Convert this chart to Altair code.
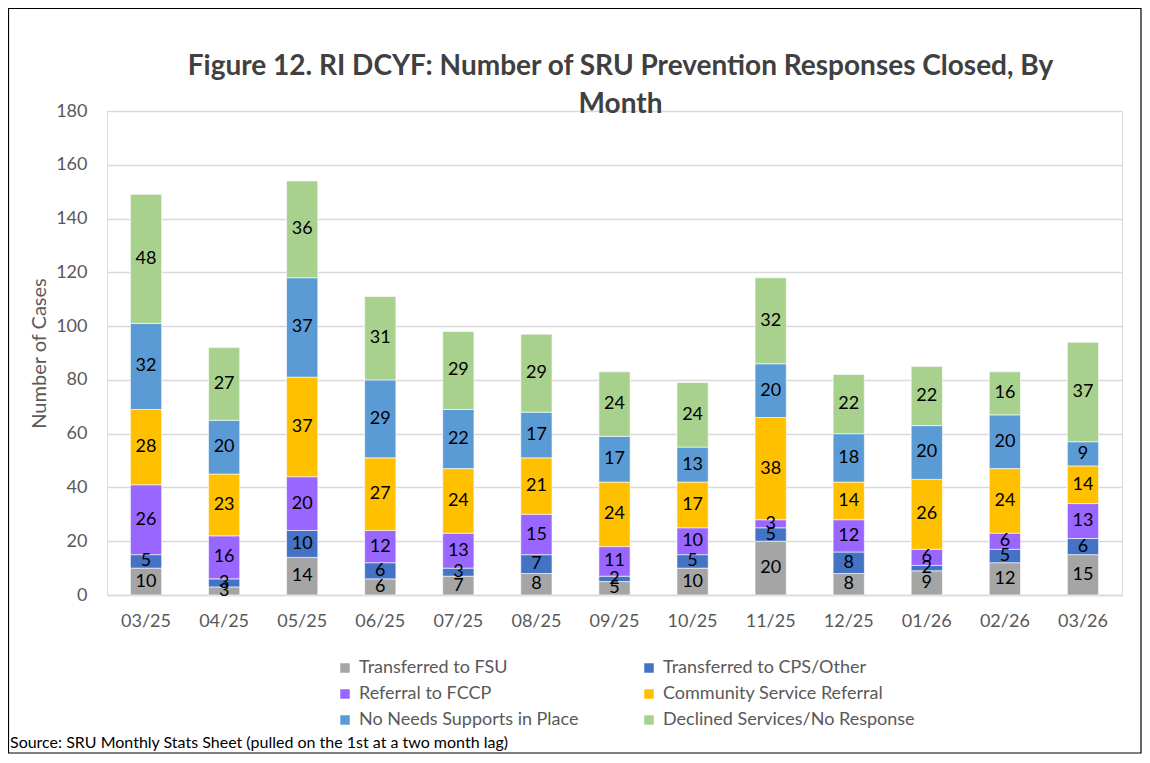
import altair as alt
import pandas as pd

months = ["03/25", "04/25", "05/25", "06/25", "07/25", "08/25", "09/25",
          "10/25", "11/25", "12/25", "01/26", "02/26", "03/26"]
series = ["Transferred to FSU", "Transferred to CPS/Other", "Referral to FCCP",
          "Community Service Referral", "No Needs Supports in Place",
          "Declined Services/No Response"]
colors = ["#A5A5A5", "#4472C4", "#9966FF", "#FFC000", "#5B9BD5", "#A9D18E"]

fsu = [10, 3, 14, 6, 7, 8, 5, 10, 20, 8, 9, 12, 15]
cps = [5, 3, 10, 6, 3, 7, 2, 5, 5, 8, 2, 5, 6]
fccp = [26, 16, 20, 12, 13, 15, 11, 10, 3, 12, 6, 6, 13]
community = [28, 23, 37, 27, 24, 21, 24, 17, 38, 14, 26, 24, 14]
noneeds = [32, 20, 37, 29, 22, 17, 17, 13, 20, 18, 20, 20, 9]
declined = [48, 27, 36, 31, 29, 29, 24, 24, 32, 22, 22, 16, 37]

y_ticks = [0, 20, 40, 60, 80, 100, 120, 140, 160, 180]
title_lines = ["Figure 12. RI DCYF: Number of SRU Prevention Responses Closed, By", "Month"]
source_note = "Source: SRU Monthly Stats Sheet (pulled on the 1st at a two month lag)"

rows = []
for si, (name, vals) in enumerate(zip(series, [fsu, cps, fccp, community, noneeds, declined])):
    for m, v in zip(months, vals):
        rows.append({"month": m, "series": name, "idx": si, "value": v})
df = pd.DataFrame(rows)

FONT = "Lato, Carlito, Calibri, sans-serif"
W, H = 1015, 484
PAD = {"left": 99, "top": 103, "right": 20, "bottom": 159}

xenc = alt.X("month:N", sort=months,
             scale=alt.Scale(paddingInner=0.6, paddingOuter=0.3),
             axis=alt.Axis(title=None, labelAngle=0, ticks=False, domainColor="#D9D9D9",
                           domainWidth=1.3, labelFontSize=18, labelColor="#595959",
                           labelPadding=17, labelFont=FONT))

base = alt.Chart(df).transform_stack(
    stack="value", groupby=["month"], as_=["y0", "y1"],
    sort=[alt.SortField("idx", order="ascending")]
).transform_calculate(mid="(datum.y0 + datum.y1) / 2")

bars = base.mark_bar(stroke="white", strokeWidth=0.6).encode(
    x=xenc,
    y=alt.Y("y0:Q", scale=alt.Scale(domain=[0, 180], nice=False),
            axis=alt.Axis(title="Number of Cases", values=y_ticks, ticks=False, domain=False,
                          gridColor="#D9D9D9", gridWidth=1.3, labelFontSize=18,
                          labelColor="#595959", labelPadding=20, labelFont=FONT,
                          titleFont=FONT, titleFontSize=20, titleFontWeight="normal",
                          titleColor="#595959", titlePadding=6)),
    y2="y1:Q",
    color=alt.Color("series:N", scale=alt.Scale(domain=series, range=colors),
                    legend=alt.Legend(title=None, orient="none", legendX=229, legendY=548,
                                      direction="horizontal", columns=2,
                                      symbolType="square", symbolSize=90,
                                      symbolStrokeWidth=0, labelFontSize=18,
                                      labelColor="#595959", labelFont=FONT, labelLimit=400,
                                      columnPadding=61, rowPadding=8, labelOffset=5)),
)

labels = base.mark_text(fontSize=18, font=FONT, color="black", baseline="middle").encode(
    x=alt.X("month:N", sort=months),
    y=alt.Y("mid:Q"),
    text="value:Q",
)

title = alt.Chart(alt.Data(values=[{"a": 1}])).mark_text(
    align="center", baseline="middle", fontSize=28, font=FONT, fontWeight="bold",
    color="#404040", lineHeight=38
).encode(x=alt.value(W / 2 + 6), y=alt.value(-44), text=alt.value(title_lines))

note = alt.Chart(alt.Data(values=[{"t": source_note}])).mark_text(
    align="left", baseline="middle", fontSize=16, font=FONT, color="black"
).encode(x=alt.value(-97), y=alt.value(632), text="t:N")

border = alt.Chart(alt.Data(values=[{"a": 1}])).mark_rect(
    fill=None, stroke="black", strokeWidth=1.2, filled=False
).encode(x=alt.value(-98.5), x2=alt.value(W + PAD["right"] - 1),
         y=alt.value(-102.5), y2=alt.value(H + PAD["bottom"] - 1))

chart = alt.layer(bars, labels, title, note, border).properties(
    width=W, height=H,
    padding=PAD,
    autosize=alt.AutoSizeParams(type="none"),
).configure_view(stroke=None).configure(background="white")

chart.save("out.html", embed_options={"renderer": "svg", "actions": False})
